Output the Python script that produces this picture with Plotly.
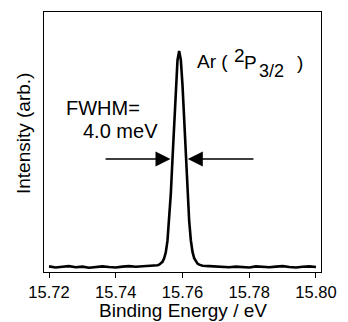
import plotly.graph_objects as go

# ---- data ----
energy_left = [15.720, 15.722, 15.724, 15.726, 15.728, 15.730, 15.732, 15.734,
               15.736, 15.738, 15.740, 15.742, 15.744, 15.746, 15.748, 15.750]
intens_left = [0.003, -0.002, 0.001, 0.004, -0.001, 0.002, -0.003, 0.001,
               0.003, 0.000, -0.002, 0.002, 0.004, 0.001, 0.003, 0.005]

energy_peak = [15.7520, 15.7525, 15.7530, 15.7535, 15.7540, 15.7545, 15.7550,
               15.7555, 15.7560, 15.7565, 15.7570, 15.7575, 15.7580, 15.7585,
               15.7590, 15.7595, 15.7600, 15.7605, 15.7610, 15.7615, 15.7620,
               15.7625, 15.7630, 15.7635, 15.7640, 15.7645, 15.7650, 15.7655,
               15.7660]
intens_peak = [0.006, 0.008, 0.011, 0.016, 0.024, 0.040, 0.068,
               0.122, 0.212, 0.340, 0.500, 0.677, 0.840, 0.957,
               1.000, 0.958, 0.842, 0.679, 0.502, 0.342, 0.214,
               0.124, 0.070, 0.041, 0.025, 0.016, 0.011, 0.008,
               0.006]

energy_right = [15.768, 15.770, 15.772, 15.774, 15.776, 15.778, 15.780, 15.782,
                15.784, 15.786, 15.788, 15.790, 15.792, 15.794, 15.796, 15.798,
                15.800]
intens_right = [0.004, 0.003, 0.001, -0.001, 0.002, 0.000, -0.002, 0.003,
                0.001, -0.001, 0.002, 0.004, 0.000, -0.002, 0.001, 0.003,
                0.000]

x_ticks = [15.72, 15.74, 15.76, 15.78, 15.80]
x_tick_labels = ["15.72", "15.74", "15.76", "15.78", "15.80"]

peak_center = 15.759
fwhm = 0.0040
half_max = 0.5

energy = energy_left + energy_peak + energy_right
intensity = intens_left + intens_peak + intens_right

FONT = "Liberation Sans, Arial, sans-serif"

W, H = 348, 322
ML, MR, MT, MB = 44, 20, 11, 50
PW, PH = W - ML - MR, H - MT - MB


def px(x):
    return (x - ML) / PW


def py(y):
    return (H - MB - y) / PH


fig = go.Figure()
fig.add_trace(go.Scatter(x=energy, y=intensity, mode="lines",
                         line=dict(color="black", width=2.6),
                         hoverinfo="skip", showlegend=False))

fig.update_layout(
    width=W, height=H,
    margin=dict(l=ML, r=MR, t=MT, b=MB),
    paper_bgcolor="white", plot_bgcolor="white",
    font=dict(family=FONT, color="black", size=17),
    xaxis=dict(range=[15.7185, 15.8015], tickvals=x_ticks, ticktext=x_tick_labels,
               ticks="outside", ticklen=5, tickwidth=1, tickcolor="black",
               showline=True, linecolor="black", linewidth=1, mirror=True,
               showgrid=False, zeroline=False,
               tickfont=dict(size=16.5, family=FONT)),
    yaxis=dict(range=[-0.023, 1.18], showticklabels=False, ticks="",
               showline=True, linecolor="black", linewidth=1, mirror=True,
               showgrid=False, zeroline=False),
)


def label(text, x, y, size=19, xanchor="left", angle=0):
    fig.add_annotation(text=text, xref="paper", yref="paper", x=px(x), y=py(y),
                       showarrow=False, xanchor=xanchor, yanchor="middle",
                       textangle=angle, font=dict(size=size, family=FONT))


# axis titles
label("Binding Energy / eV", 186.5, 311, size=19, xanchor="center")
label("Intensity (arb.)", 23, 133, size=19, xanchor="center", angle=-90)

# peak label  Ar ( 2P3/2 )
label("Ar (", 199, 61)
label("2", 237, 55)
label("P", 247, 62)
label("3/2", 262, 70, size=18)
label(")", 301, 62)

# FWHM label
label("FWHM=", 64, 107, size=20)
label("4.0 meV", 82, 130, size=20)

# arrows
edge = 0.0006
fig.add_annotation(x=peak_center - fwhm / 2 - edge, y=half_max,
                   ax=peak_center - fwhm / 2 - edge - 0.0199, ay=half_max,
                   xref="x", yref="y", axref="x", ayref="y", text="",
                   showarrow=True, arrowhead=2, arrowsize=2.0, arrowwidth=1.5,
                   arrowcolor="black", standoff=0)
fig.add_annotation(x=peak_center + fwhm / 2 + edge, y=half_max,
                   ax=peak_center + fwhm / 2 + edge + 0.0201, ay=half_max,
                   xref="x", yref="y", axref="x", ayref="y", text="",
                   showarrow=True, arrowhead=2, arrowsize=2.0, arrowwidth=1.5,
                   arrowcolor="black", standoff=0)

fig.write_html("out.html", config={"displayModeBar": False},
               post_script="document.body.style.margin='0';document.body.style.overflow='hidden';")
